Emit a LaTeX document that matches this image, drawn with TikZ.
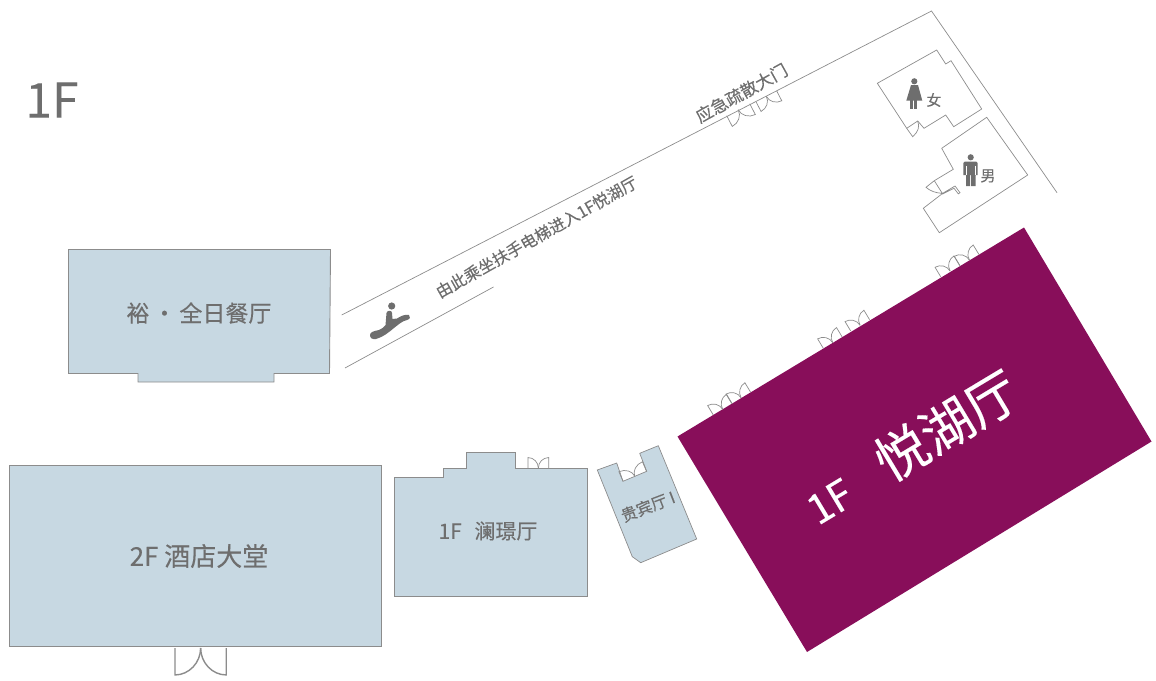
\documentclass[tikz,border=0pt]{standalone}
\usepackage{fontspec}
\usepackage{xcolor}
\setmainfont{Noto Sans CJK SC}[BoldFont={Noto Sans CJK SC},BoldFeatures={FakeBold=0.2}]
\usetikzlibrary{positioning}
\definecolor{roomblue}{HTML}{C7D8E2}
\definecolor{hallpurple}{HTML}{880E5A}
\definecolor{wallgray}{HTML}{8C8C8C}
\definecolor{textgray}{HTML}{6E6E6E}
\tikzset{
  room/.style={draw=wallgray, fill=roomblue, line width=.9pt},
  wall/.style={draw=wallgray, line width=.7pt},
  label/.style={text=textgray, inner sep=0pt},
  figure/.style={fill=textgray, draw=none},
  pics/gate/.style={code={
    \draw[wall] (0,0) -- (0,-11) .. controls (6,-11) and (11,-6) .. (11,0);
    \draw[wall] (22,0) -- (22,-11) .. controls (16,-11) and (11,-6) .. (11,0);
  }}
}
\begin{document}
\begin{tikzpicture}[x=1pt,y=-1pt]
  \useasboundingbox (0,0) rectangle (1156,680);

  \draw[room] (68.5,249.5) -- (330.5,249.5) -- (329.5,373.5) -- (274,373.5) -- (274,382) -- (138,382) -- (138,373.5) -- (68.5,373.5) -- cycle;
  \draw[room] (9.5,465) rectangle (381.5,646);
  \draw[room] (394.5,477) -- (443.5,477) -- (443.5,468.5) -- (466.5,468.5) -- (466.5,452.5) -- (515,452.5) -- (515,468.5) -- (587,468.5) -- (587,596.5) -- (394.5,596.5) -- cycle;
  \draw[room, line width=.7pt] (597.3,470) -- (616.7,463) -- (623,481.3) -- (646.7,471.3) -- (639.7,453.3) -- (658.3,445.7) -- (696.7,539) -- (640.7,562.7) -- (632.3,556.7) -- cycle;
  \fill[hallpurple] (677.5,436.5) -- (1024,227.5) -- (1151.5,441.5) -- (807,652) -- cycle;

  \draw[wall] (341.7,315) -- (931.5,11) -- (1057,192.7);
  \draw[wall] (345,368) -- (493.5,287);

  \draw[wall] (877.3,83.3) -- (936.7,50) -- (945.7,64) -- (951,60.7) -- (981.7,109) -- (953.7,126.7) -- (945.7,115) -- (924,128.3) -- (917.7,121) -- (906.7,128.3) -- cycle;
  \draw[wall] (906.7,128.3) -- (912.7,136.7) .. controls (918,132) and (920,127) .. (917.7,121);
  \draw[wall] (934.3,180.7) -- (953.3,169.3) -- (941.7,148.3) -- (986.7,117.3) -- (1027.7,175) -- (939.3,232.7) -- (923.3,208.3) -- (942.7,193.3) -- (955,186) -- (960,192.7) -- (958.3,193.8) -- (954,188.3) -- (942.7,194) -- (934.3,180.7) -- (926,187.3) .. controls (930,191) and (936,193) .. (941.7,193.3);

  \foreach \px/\py/\angle in {713.3/415/31, 731.7/403.5/31, 823.3/348.3/31, 850.7/331/31, 940.7/276.7/31, 960/265.7/31}
    \pic[rotate=\angle] at (\px,\py) {gate};
  \pic[rotate=27.3,xscale=1.18,yscale=-1.1] at (726.7,115.7) {gate};
  \pic[rotate=27.3,xscale=1.06,yscale=-1.0] at (756,101.7) {gate};
  \pic[rotate=23,xscale=1.16,yscale=.95] at (623,481.3) {gate};
  \pic[xscale=.94,yscale=.95] at (528,468) {gate};
  \begin{scope}[wall/.style={draw=wallgray, line width=1.4pt}]
    \pic[xscale=2.33,yscale=-2.45] at (175,648) {gate};
  \end{scope}

  \fill[figure] (391.7,306) circle (3.6);
  \fill[figure] (370,335) .. controls (370,332) and (374,331) .. (379,330) .. controls (382,329) and (384,327) .. (385.5,325) -- (386.5,313) .. controls (387,310) and (392,310) .. (392,313) -- (392.5,319) -- (397,318.5) .. controls (401,316) and (405,314) .. (409,315) .. controls (411,317) and (410,319) .. (407,320) .. controls (402,321) and (398,325) .. (394,328) .. controls (388,333) and (383,337) .. (376,339) .. controls (372,339.5) and (370,338) .. (370,335) -- cycle;

  \fill[figure] (914.3,81.3) circle (3.1);
  \fill[figure] (911,85) -- (918,85) -- (922.3,100.7) -- (906.3,100.7) -- cycle;
  \fill[figure] (910,100) rectangle (913,109.3);
  \fill[figure] (914,100) rectangle (917,109.3);

  \fill[figure] (970.7,157.3) circle (3.1);
  \fill[figure] (963.3,175) -- (963.3,163) -- (965,161.5) -- (976,161.5) -- (977.7,163) -- (977.7,175) -- (975.5,175) -- (975.5,186) -- (971.2,186) -- (971.2,175) -- (970.2,175) -- (970.2,186) -- (966,186) -- (966,175) -- cycle;
  \draw[white, line width=.5pt] (966,166) -- (966,175) (975.2,166) -- (975.2,175);

  \node[label, font=\bfseries\fontsize{48}{48}\selectfont] (floor) at (52,100) {1F};
  \node[label, font=\bfseries\fontsize{23}{23}\selectfont] (yu) at (199,313) {裕\hspace{.15em}•\hspace{.15em}全日餐厅};
  \node[label, font=\bfseries\fontsize{26}{26}\selectfont] (lobby) at (199,556) {2F 酒店大堂};
  \node[label, font=\bfseries\fontsize{21}{21}\selectfont] (lanjing) at (488,531) {1F\hspace{.6em}澜璟厅};
  \node[label, rotate=21, font=\bfseries\fontsize{16}{16}\selectfont] (vip) at (648,506.5) {贵宾厅 I};
  \node[label, rotate=29.5, font=\bfseries\fontsize{16.2}{16.2}\selectfont] (route) at (536.5,237) {由此乘坐扶手电梯进入1F悦湖厅};
  \node[label, rotate=29, font=\bfseries\fontsize{17}{17}\selectfont] (exit) at (741.5,93) {应急疏散大门};
  \node[label, font=\bfseries\fontsize{15}{15}\selectfont] (female) at (934,100) {女};
  \node[label, font=\bfseries\fontsize{15}{15}\selectfont] (male) at (988,176) {男};
  \node[inner sep=0pt, text=white, rotate=31, font=\bfseries\fontsize{52.5}{52.5}\selectfont] (yuehu) at (911,447) {{\fontsize{41}{41}\selectfont 1F}\hspace{.72em}悦湖厅};
\end{tikzpicture}
\end{document}
